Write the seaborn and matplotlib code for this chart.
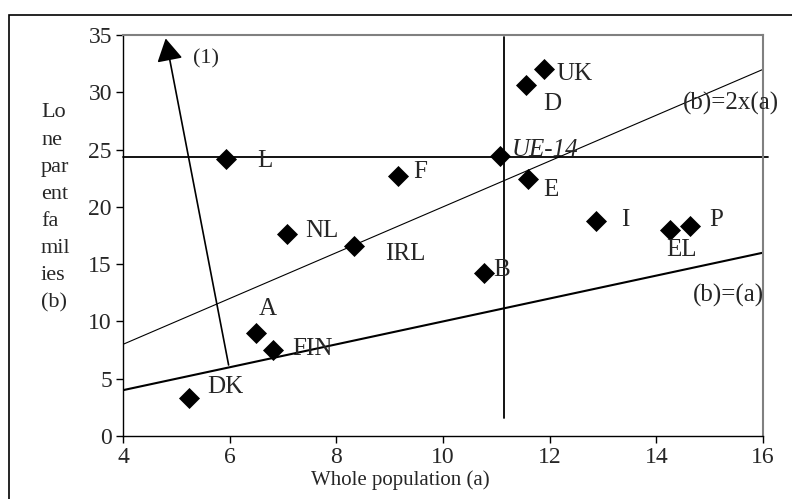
import matplotlib
matplotlib.use('Agg')

import pandas as pd
import matplotlib.pyplot as plt
import seaborn as sns
from matplotlib.patches import Rectangle

# ==============================
# DADOS
# ==============================

paises = ['DK', 'A', 'FIN', 'L', 'NL', 'IRL', 'F', 'B', 'UE-14',
          'D', 'UK', 'E', 'I', 'EL', 'P']
populacao = [5.24, 6.49, 6.81, 5.93, 7.07, 8.33, 9.16, 10.77, 11.07,
             11.56, 11.89, 11.59, 12.87, 14.26, 14.63]
monoparental = [3.3, 9.0, 7.5, 24.2, 17.6, 16.6, 22.7, 14.25, 24.4,
                30.6, 32.0, 22.4, 18.8, 18.0, 18.3]

# posição dos rótulos (x, linha de base)
rotulo_x = [5.58, 6.55, 7.17, 6.51, 7.41, 8.91, 9.44, 10.94, 11.29,
            11.87, 12.13, 11.87, 13.33, 14.18, 14.99]
rotulo_y = [3.73, 10.56, 7.07, 23.5, 17.4, 15.36, 22.5, 13.96, 24.46,
            28.45, 31.06, 20.94, 18.3, 15.7, 18.3]

# retas de referência
ref_x = [4, 16]
ref_igual = [4, 16]      # (b)=(a)
ref_dobro = [8, 32]      # (b)=2x(a)

# médias UE-14
media_y = 24.37
media_x = 11.15

# seta (1)
seta_inicio = (5.98, 6.2)
seta_fim = (4.80, 34.7)

df = pd.DataFrame({'pais': paises, 'a': populacao, 'b': monoparental})

# ==============================
# GRÁFICO
# ==============================

sns.set_theme(style='white')
plt.rcParams['font.family'] = ['Liberation Serif', 'DejaVu Serif']

fig = plt.figure(figsize=(7.92, 4.99), dpi=100)
ax = fig.add_axes([123 / 792, 1 - 436 / 499, 640 / 792, 401 / 499])

# moldura externa
fig.patches.append(Rectangle((9 / 792, -0.1), 1.2, 1 - 15 / 499 + 0.1,
                             transform=fig.transFigure, fill=False,
                             edgecolor='black', linewidth=1.2))

ax.plot(ref_x, ref_igual, color='black', linewidth=1.5)
ax.plot(ref_x, ref_dobro, color='black', linewidth=0.8)
ax.plot([4, 16.1], [media_y, media_y], color='black', linewidth=1.3,
        clip_on=False)
ax.plot([media_x, media_x], [1.57, 34.8], color='black', linewidth=1.3)

ax.annotate('', xy=seta_fim, xytext=seta_inicio,
            arrowprops=dict(arrowstyle='-|>,head_length=0.7,head_width=0.4',
                            mutation_scale=20, color='black', lw=1.2,
                            shrinkA=0, shrinkB=0))
ax.text(5.32, 32.5, '(1)', fontsize=16, va='baseline')

sns.scatterplot(data=df, x='a', y='b', marker='D', s=115, color='black',
                edgecolor='black', linewidth=0, ax=ax, zorder=5)

for nome, tx, ty in zip(paises, rotulo_x, rotulo_y):
    estilo = 'italic' if nome == 'UE-14' else 'normal'
    ax.text(tx, ty, nome, fontsize=18, va='baseline', ha='left',
            style=estilo, zorder=6)

ax.text(14.49, 28.45, '(b)=2x(a)', fontsize=18, va='baseline', zorder=6)
ax.text(14.68, 11.72, '(b)=(a)', fontsize=18, va='baseline', zorder=6)

ax.set_xlim(4, 16)
ax.set_ylim(0, 35)
ax.set_xticks([4, 6, 8, 10, 12, 14, 16])
ax.set_yticks([0, 5, 10, 15, 20, 25, 30, 35])
ax.tick_params(axis='both', direction='out', length=5, width=1,
               color='black', labelsize=17, bottom=True, left=True, pad=3)
ax.set_xlabel('')
ax.set_ylabel('')

for lado in ['left', 'bottom']:
    ax.spines[lado].set_color('black')
    ax.spines[lado].set_linewidth(1.0)
for lado in ['top', 'right']:
    ax.spines[lado].set_color('#808080')
    ax.spines[lado].set_linewidth(1.5)

fig.text(400 / 792, 1 - 480 / 499, 'Whole population (a)', fontsize=15,
         ha='center', va='center')
fig.text(41 / 792, 1 - 208 / 499, 'Lo\nne\npar\nent\nfa\nmil\nies\n(b)',
         fontsize=16, ha='left', va='center', linespacing=1.58)

fig.savefig('out.png', dpi=100)
